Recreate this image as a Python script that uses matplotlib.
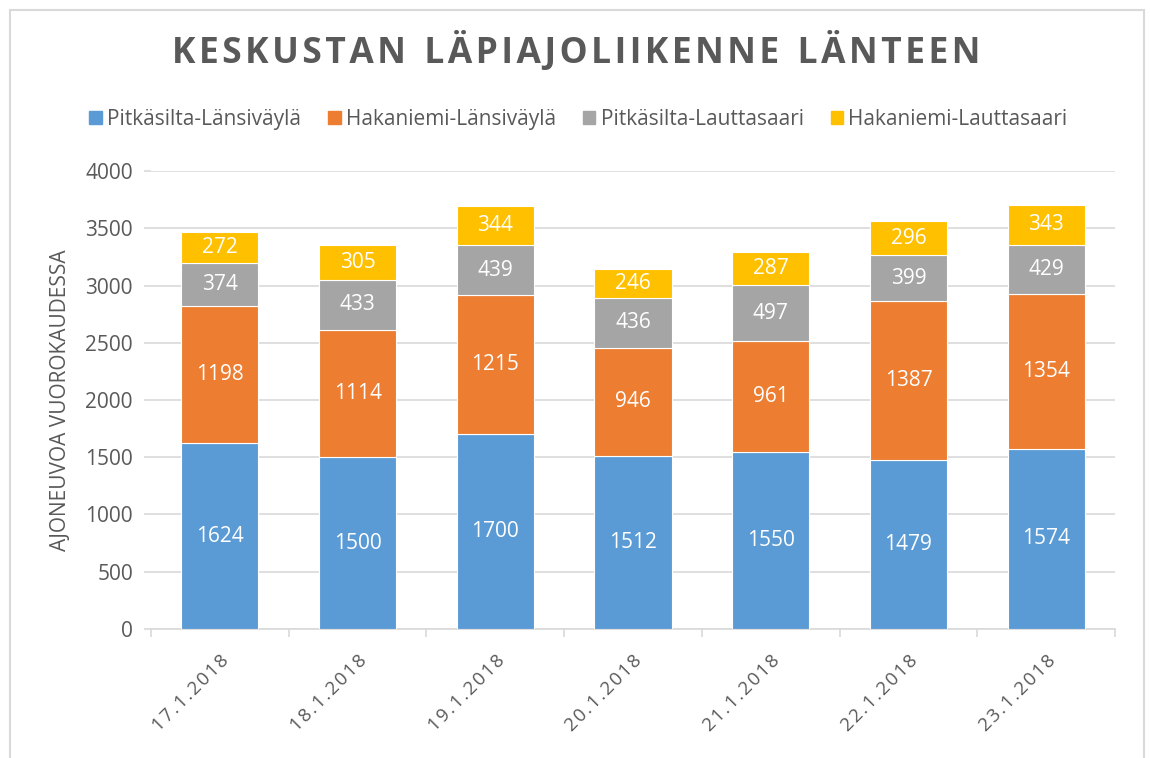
import matplotlib
matplotlib.use("Agg")
import matplotlib.pyplot as plt
import numpy as np
from matplotlib.patches import Rectangle

dates = ["17.1.2018", "18.1.2018", "19.1.2018", "20.1.2018", "21.1.2018", "22.1.2018", "23.1.2018"]
series_names = ["Pitkäsilta-Länsiväylä", "Hakaniemi-Länsiväylä", "Pitkäsilta-Lauttasaari", "Hakaniemi-Lauttasaari"]
pitkasilta_lansivayla = [1624, 1500, 1700, 1512, 1550, 1479, 1574]
hakaniemi_lansivayla = [1198, 1114, 1215, 946, 961, 1387, 1354]
pitkasilta_lauttasaari = [374, 433, 439, 436, 497, 399, 429]
hakaniemi_lauttasaari = [272, 305, 344, 246, 287, 296, 343]
colors = ["#5B9BD5", "#ED7D31", "#A5A5A5", "#FFC000"]

series = [pitkasilta_lansivayla, hakaniemi_lansivayla, pitkasilta_lauttasaari, hakaniemi_lauttasaari]

plt.rcParams['font.family'] = ['Open Sans', 'DejaVu Sans']
txt = "#595959"
grid_c = "#D9D9D9"


def spaced(s, sep="\u200a"):
    return sep.join(s)


fig = plt.figure(figsize=(11.5, 7.58), dpi=100)
ax = fig.add_axes([0.1313, 0.1702, 0.9696 - 0.1313, 0.7744 - 0.1702])

x = np.arange(len(dates))
bottom = np.zeros(len(dates))
for vals, c, name in zip(series, colors, series_names):
    vals = np.array(vals)
    ax.bar(x, vals, 0.56, bottom=bottom, color=c, edgecolor="white", linewidth=0.8, label=name, zorder=3)
    for xi, b, v in zip(x, bottom, vals):
        ax.text(xi, b + v / 2, str(v), ha="center", va="center", color="white", fontsize=15, zorder=4)
    bottom += vals

ax.set_xlim(-0.5, len(dates) - 0.5)
ax.set_ylim(0, 4000)
ax.set_yticks(np.arange(0, 4001, 500))
ax.yaxis.grid(True, color=grid_c, linewidth=1.2, zorder=0)
ax.set_axisbelow(True)
for s in ["top", "right", "left"]:
    ax.spines[s].set_visible(False)
ax.spines["bottom"].set_color(grid_c)
ax.spines["bottom"].set_linewidth(1.2)
ax.tick_params(axis="y", length=5, color=grid_c, width=1.2, labelsize=15, labelcolor=txt, pad=8)
ax.set_xticks(np.arange(-0.5, len(dates) + 0.5, 1))
ax.set_xticklabels([])
ax.tick_params(axis="x", which="major", length=6, color=grid_c, width=1.2)
ax.set_xticks(x, minor=True)
ax.set_xticklabels([spaced(d) for d in dates], minor=True, rotation=45, ha="right", va="top",
                   rotation_mode="anchor", fontsize=13.5, color=txt)
ax.tick_params(axis="x", which="minor", length=0, pad=16)

ax.set_ylabel("AJONEUVOA VUOROKAUDESSA", fontsize=15, color=txt, labelpad=10)

title = "  ".join(spaced(w) for w in "KESKUSTAN LÄPIAJOLIIKENNE LÄNTEEN".split())
fig.text(0.501, 0.932, title, ha="center", va="center", fontsize=25.5, fontweight="bold", color=txt)

handles = [Rectangle((0, 0), 1, 1, color=c) for c in colors]
fig.legend(handles, series_names, loc="center", bbox_to_anchor=(0.503, 0.843), ncol=4, frameon=False,
           fontsize=15, labelcolor=txt, handlelength=0.6, handleheight=0.6, handletextpad=0.25,
           columnspacing=1.3)

W, H = 1150, 758
fig.patches.append(Rectangle((10 / W, -0.02), (1144 - 10) / W, (H - 10) / H + 0.02, transform=fig.transFigure,
                             fill=False, edgecolor=grid_c, linewidth=1.5))

fig.savefig("out.png", dpi=100)
